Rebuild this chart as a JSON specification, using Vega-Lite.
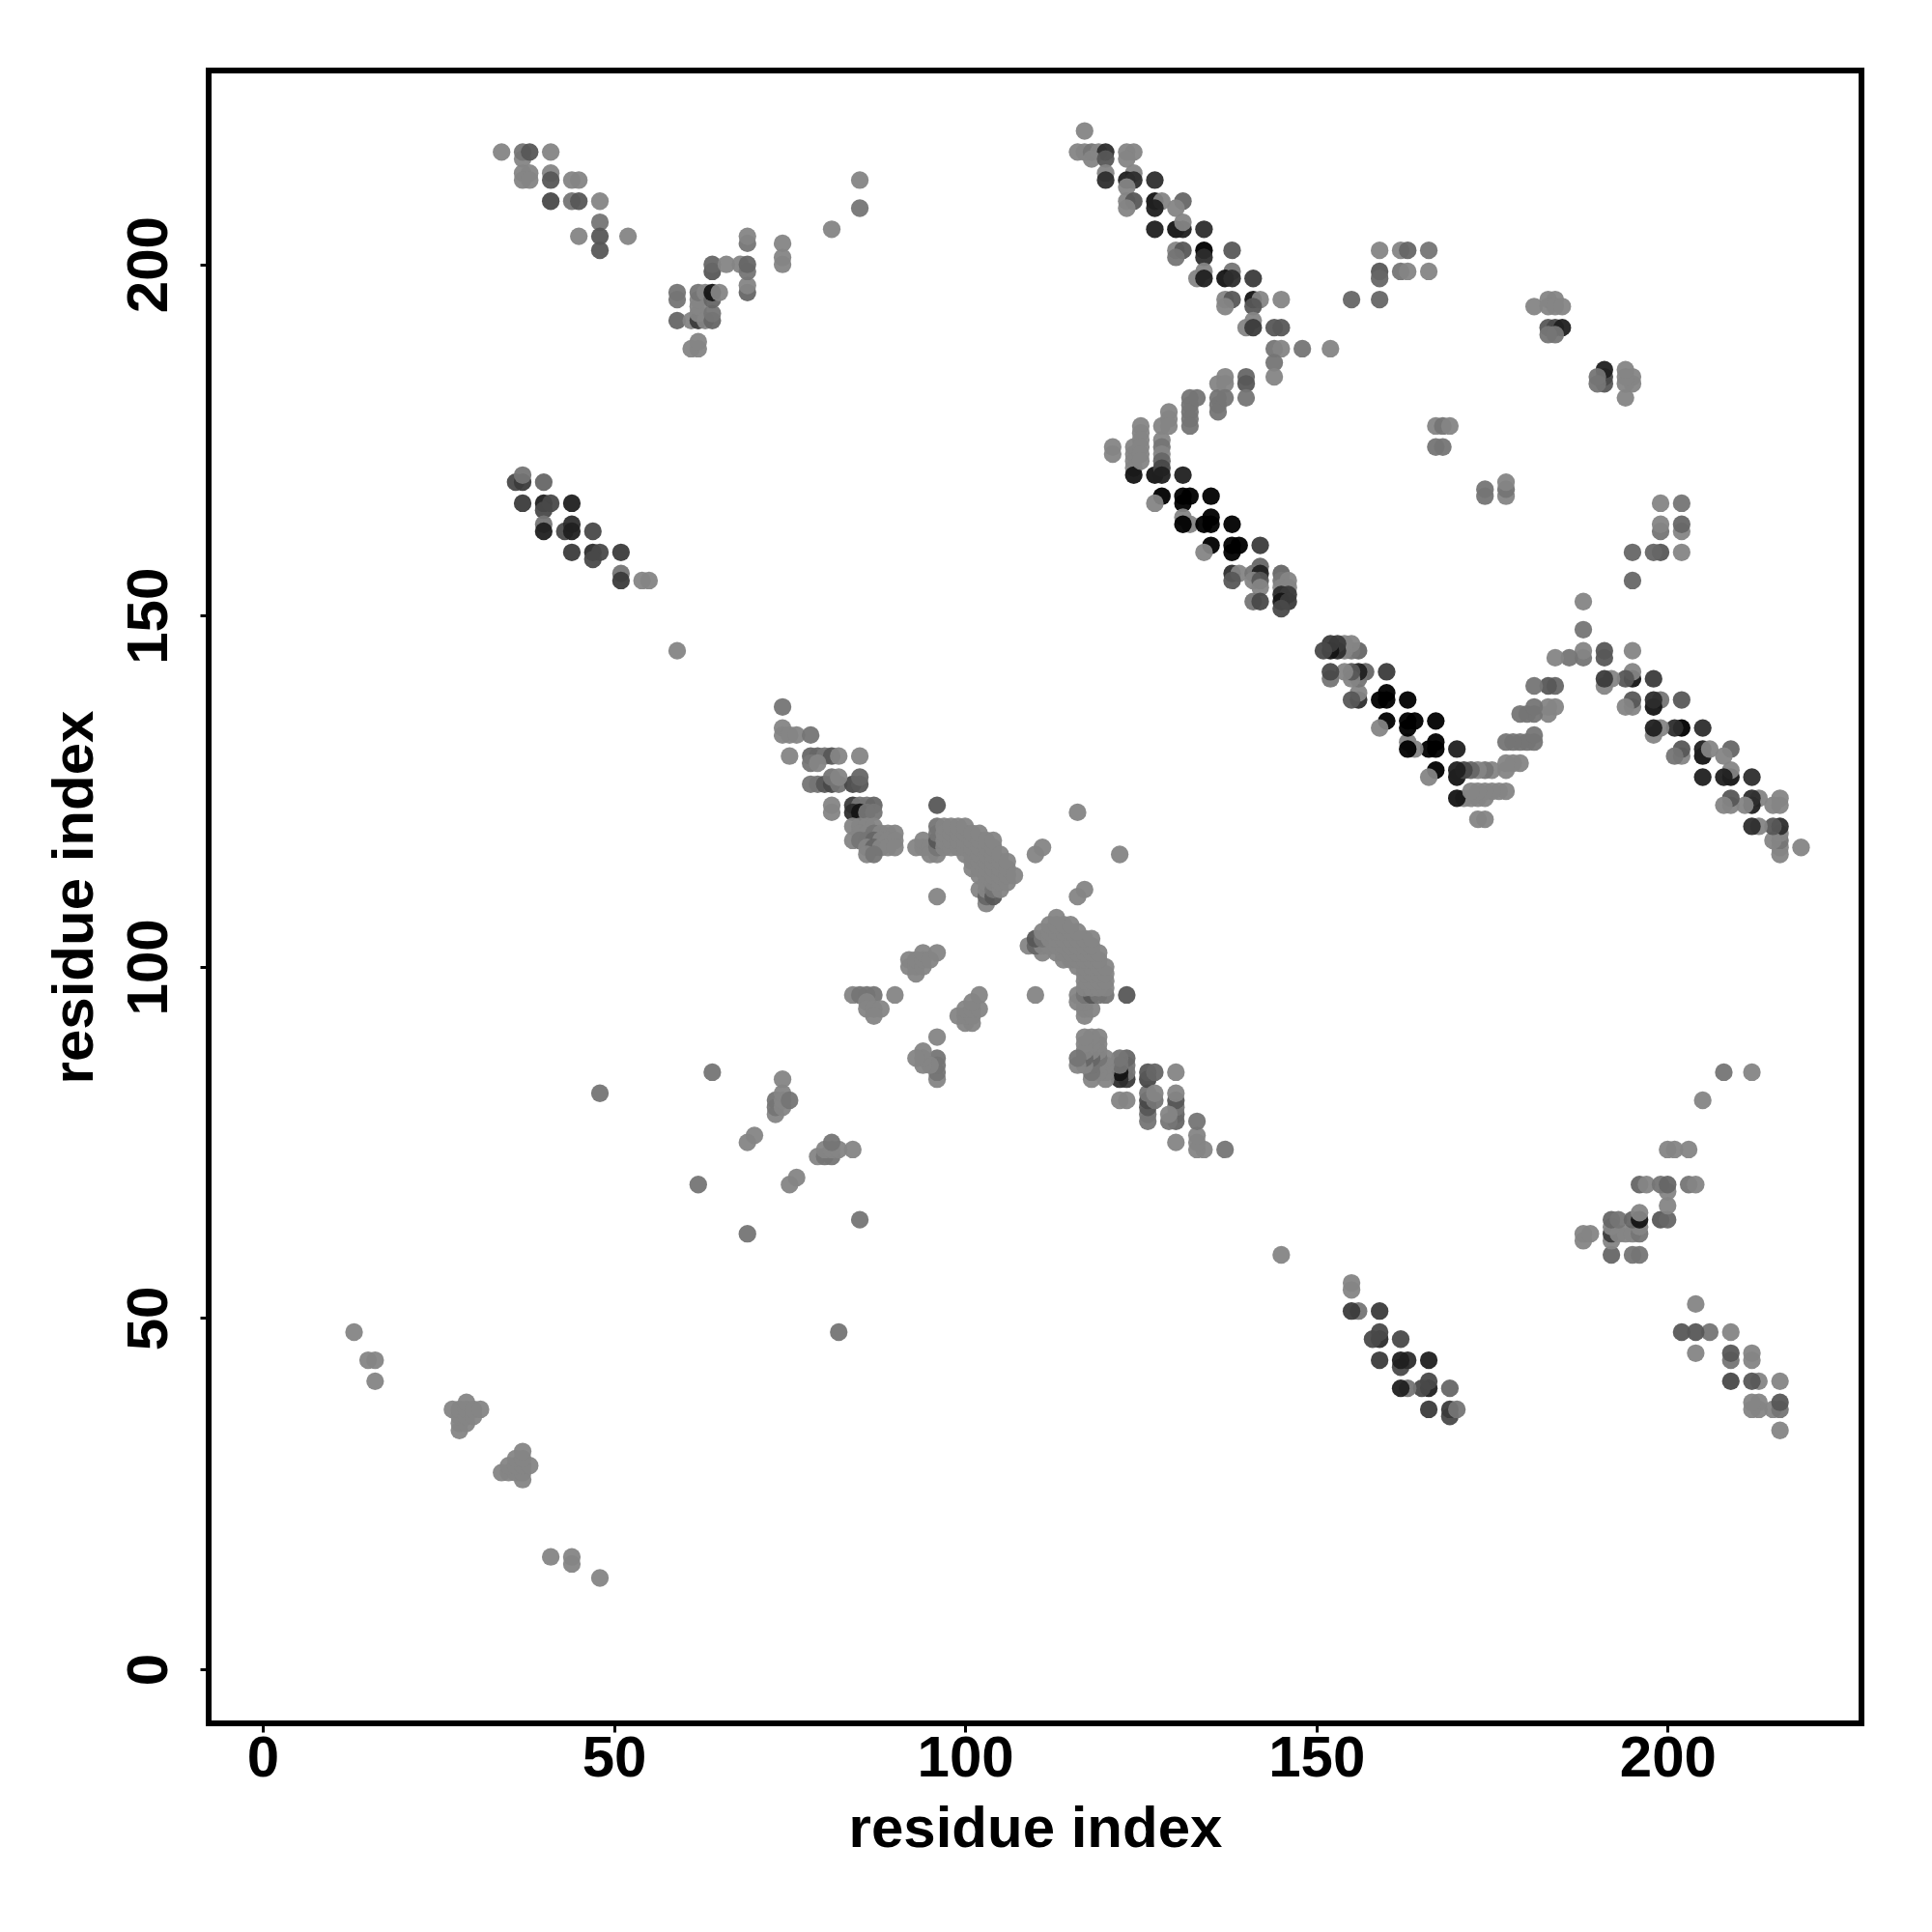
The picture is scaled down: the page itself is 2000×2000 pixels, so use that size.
{"$schema":"https://vega.github.io/schema/vega-lite/v6.json","autosize":{"type":"none"},"padding":{"left":216,"top":73,"right":73,"bottom":216},"width":1711,"height":1711,"background":"white","config":{"view":{"stroke":"black","strokeWidth":6},"font":"Liberation Sans"},"data":{"values":[
{"x":13,"y":48,"s":0},{"x":48,"y":13,"s":0},{"x":15,"y":44,"s":0},{"x":44,"y":15,"s":0},{"x":16,"y":44,"s":0},{"x":44,"y":16,"s":0},{"x":16,"y":41,"s":0},{"x":41,"y":16,"s":0},
{"x":27,"y":37,"s":0},{"x":37,"y":27,"s":0},{"x":28,"y":34,"s":0},{"x":34,"y":28,"s":0},{"x":28,"y":35,"s":0},{"x":35,"y":28,"s":0},{"x":28,"y":36,"s":0},{"x":36,"y":28,"s":0},{"x":28,"y":37,"s":0},{"x":37,"y":28,"s":0},{"x":29,"y":35,"s":0},{"x":35,"y":29,"s":0},{"x":29,"y":36,"s":0},{"x":36,"y":29,"s":0},{"x":29,"y":37,"s":0},{"x":37,"y":29,"s":0},{"x":29,"y":38,"s":0},{"x":38,"y":29,"s":0},{"x":30,"y":36,"s":0},{"x":36,"y":30,"s":0},{"x":30,"y":37,"s":0},{"x":37,"y":30,"s":0},{"x":31,"y":37,"s":0},{"x":37,"y":31,"s":0},
{"x":34,"y":216,"s":0},{"x":216,"y":34,"s":0},{"x":37,"y":215,"s":0},{"x":215,"y":37,"s":0},{"x":37,"y":216,"s":1},{"x":216,"y":37,"s":1},{"x":38,"y":216,"s":3},{"x":216,"y":38,"s":3},{"x":41,"y":216,"s":0},{"x":216,"y":41,"s":0},{"x":37,"y":213,"s":0},{"x":213,"y":37,"s":0},{"x":38,"y":213,"s":0},{"x":213,"y":38,"s":0},{"x":37,"y":212,"s":0},{"x":212,"y":37,"s":0},{"x":38,"y":212,"s":0},{"x":212,"y":38,"s":0},{"x":41,"y":213,"s":0},{"x":213,"y":41,"s":0},{"x":41,"y":212,"s":3},{"x":212,"y":41,"s":3},{"x":44,"y":212,"s":0},{"x":212,"y":44,"s":0},{"x":45,"y":212,"s":0},{"x":212,"y":45,"s":0},{"x":41,"y":209,"s":4},{"x":209,"y":41,"s":4},{"x":44,"y":209,"s":1},{"x":209,"y":44,"s":1},{"x":45,"y":209,"s":3},{"x":209,"y":45,"s":3},{"x":48,"y":209,"s":0},{"x":209,"y":48,"s":0},{"x":48,"y":206,"s":1},{"x":206,"y":48,"s":1},{"x":45,"y":204,"s":0},{"x":204,"y":45,"s":0},{"x":48,"y":204,"s":3},{"x":204,"y":48,"s":3},{"x":52,"y":204,"s":0},{"x":204,"y":52,"s":0},{"x":48,"y":202,"s":3},{"x":202,"y":48,"s":3},
{"x":36,"y":169,"s":4},{"x":169,"y":36,"s":4},{"x":37,"y":169,"s":5},{"x":169,"y":37,"s":5},{"x":40,"y":169,"s":2},{"x":169,"y":40,"s":2},{"x":37,"y":170,"s":1},{"x":170,"y":37,"s":1},{"x":37,"y":166,"s":5},{"x":166,"y":37,"s":5},{"x":40,"y":166,"s":7},{"x":166,"y":40,"s":7},{"x":41,"y":166,"s":4},{"x":166,"y":41,"s":4},{"x":44,"y":166,"s":7},{"x":166,"y":44,"s":7},{"x":40,"y":165,"s":4},{"x":165,"y":40,"s":4},{"x":40,"y":163,"s":1},{"x":163,"y":40,"s":1},{"x":40,"y":162,"s":7},{"x":162,"y":40,"s":7},{"x":43,"y":162,"s":4},{"x":162,"y":43,"s":4},{"x":44,"y":163,"s":6},{"x":163,"y":44,"s":6},{"x":44,"y":162,"s":7},{"x":162,"y":44,"s":7},{"x":47,"y":162,"s":4},{"x":162,"y":47,"s":4},{"x":44,"y":159,"s":5},{"x":159,"y":44,"s":5},{"x":47,"y":159,"s":6},{"x":159,"y":47,"s":6},{"x":48,"y":159,"s":4},{"x":159,"y":48,"s":4},{"x":47,"y":158,"s":4},{"x":158,"y":47,"s":4},{"x":51,"y":159,"s":5},{"x":159,"y":51,"s":5},{"x":51,"y":156,"s":1},{"x":156,"y":51,"s":1},{"x":51,"y":155,"s":5},{"x":155,"y":51,"s":5},{"x":54,"y":155,"s":0},{"x":155,"y":54,"s":0},{"x":55,"y":155,"s":0},{"x":155,"y":55,"s":0},{"x":59,"y":145,"s":0},{"x":145,"y":59,"s":0},{"x":48,"y":82,"s":1},{"x":82,"y":48,"s":1},
{"x":59,"y":196,"s":1},{"x":196,"y":59,"s":1},{"x":59,"y":195,"s":1},{"x":195,"y":59,"s":1},{"x":59,"y":192,"s":2},{"x":192,"y":59,"s":2},{"x":61,"y":192,"s":0},{"x":192,"y":61,"s":0},{"x":61,"y":188,"s":0},{"x":188,"y":61,"s":0},{"x":62,"y":188,"s":0},{"x":188,"y":62,"s":0},{"x":62,"y":189,"s":0},{"x":189,"y":62,"s":0},{"x":62,"y":192,"s":5},{"x":192,"y":62,"s":5},{"x":62,"y":193,"s":0},{"x":193,"y":62,"s":0},{"x":62,"y":194,"s":0},{"x":194,"y":62,"s":0},{"x":62,"y":195,"s":0},{"x":195,"y":62,"s":0},{"x":62,"y":196,"s":1},{"x":196,"y":62,"s":1},{"x":63,"y":192,"s":0},{"x":192,"y":63,"s":0},{"x":63,"y":196,"s":0},{"x":196,"y":63,"s":0},{"x":64,"y":192,"s":2},{"x":192,"y":64,"s":2},{"x":64,"y":193,"s":1},{"x":193,"y":64,"s":1},{"x":64,"y":195,"s":2},{"x":195,"y":64,"s":2},{"x":64,"y":196,"s":8},{"x":196,"y":64,"s":8},{"x":64,"y":199,"s":3},{"x":199,"y":64,"s":3},{"x":64,"y":200,"s":2},{"x":200,"y":64,"s":2},{"x":65,"y":196,"s":0},{"x":196,"y":65,"s":0},{"x":66,"y":200,"s":0},{"x":200,"y":66,"s":0},{"x":68,"y":200,"s":0},{"x":200,"y":68,"s":0},{"x":69,"y":196,"s":2},{"x":196,"y":69,"s":2},{"x":69,"y":197,"s":0},{"x":197,"y":69,"s":0},{"x":69,"y":199,"s":1},{"x":199,"y":69,"s":1},{"x":69,"y":200,"s":2},{"x":200,"y":69,"s":2},{"x":69,"y":203,"s":1},{"x":203,"y":69,"s":1},{"x":69,"y":204,"s":0},{"x":204,"y":69,"s":0},{"x":74,"y":200,"s":0},{"x":200,"y":74,"s":0},{"x":74,"y":201,"s":0},{"x":201,"y":74,"s":0},{"x":74,"y":203,"s":0},{"x":203,"y":74,"s":0},{"x":81,"y":205,"s":0},{"x":205,"y":81,"s":0},{"x":85,"y":208,"s":1},{"x":208,"y":85,"s":1},{"x":85,"y":212,"s":0},{"x":212,"y":85,"s":0},
{"x":62,"y":69,"s":1},{"x":69,"y":62,"s":1},{"x":64,"y":85,"s":1},{"x":85,"y":64,"s":1},{"x":69,"y":75,"s":0},{"x":75,"y":69,"s":0},{"x":70,"y":76,"s":0},{"x":76,"y":70,"s":0},{"x":73,"y":79,"s":0},{"x":79,"y":73,"s":0},{"x":73,"y":80,"s":1},{"x":80,"y":73,"s":1},{"x":73,"y":81,"s":1},{"x":81,"y":73,"s":1},{"x":74,"y":80,"s":0},{"x":80,"y":74,"s":0},{"x":74,"y":81,"s":0},{"x":81,"y":74,"s":0},{"x":74,"y":82,"s":0},{"x":82,"y":74,"s":0},{"x":74,"y":84,"s":0},{"x":84,"y":74,"s":0},{"x":75,"y":81,"s":1},{"x":81,"y":75,"s":1},
{"x":84,"y":96,"s":0},{"x":96,"y":84,"s":0},{"x":85,"y":96,"s":1},{"x":96,"y":85,"s":1},{"x":86,"y":96,"s":1},{"x":96,"y":86,"s":1},{"x":87,"y":96,"s":1},{"x":96,"y":87,"s":1},{"x":90,"y":96,"s":0},{"x":96,"y":90,"s":0},{"x":86,"y":95,"s":0},{"x":95,"y":86,"s":0},{"x":86,"y":94,"s":0},{"x":94,"y":86,"s":0},{"x":87,"y":94,"s":0},{"x":94,"y":87,"s":0},{"x":88,"y":94,"s":0},{"x":94,"y":88,"s":0},{"x":87,"y":93,"s":0},{"x":93,"y":87,"s":0},{"x":92,"y":100,"s":0},{"x":100,"y":92,"s":0},{"x":92,"y":101,"s":0},{"x":101,"y":92,"s":0},{"x":93,"y":99,"s":0},{"x":99,"y":93,"s":0},{"x":93,"y":100,"s":0},{"x":100,"y":93,"s":0},{"x":93,"y":101,"s":0},{"x":101,"y":93,"s":0},{"x":94,"y":100,"s":0},{"x":100,"y":94,"s":0},{"x":94,"y":101,"s":0},{"x":101,"y":94,"s":0},{"x":94,"y":102,"s":0},{"x":102,"y":94,"s":0},{"x":95,"y":101,"s":0},{"x":101,"y":95,"s":0},{"x":96,"y":102,"s":0},{"x":102,"y":96,"s":0},
{"x":74,"y":137,"s":1},{"x":137,"y":74,"s":1},{"x":74,"y":134,"s":0},{"x":134,"y":74,"s":0},{"x":74,"y":133,"s":0},{"x":133,"y":74,"s":0},{"x":75,"y":133,"s":0},{"x":133,"y":75,"s":0},{"x":76,"y":133,"s":0},{"x":133,"y":76,"s":0},{"x":78,"y":133,"s":1},{"x":133,"y":78,"s":1},{"x":75,"y":130,"s":0},{"x":130,"y":75,"s":0},{"x":78,"y":130,"s":2},{"x":130,"y":78,"s":2},{"x":79,"y":130,"s":2},{"x":130,"y":79,"s":2},{"x":80,"y":130,"s":1},{"x":130,"y":80,"s":1},{"x":81,"y":130,"s":3},{"x":130,"y":81,"s":3},{"x":82,"y":130,"s":0},{"x":130,"y":82,"s":0},{"x":85,"y":130,"s":0},{"x":130,"y":85,"s":0},{"x":78,"y":129,"s":1},{"x":129,"y":78,"s":1},{"x":79,"y":129,"s":0},{"x":129,"y":79,"s":0},{"x":78,"y":126,"s":1},{"x":126,"y":78,"s":1},{"x":79,"y":126,"s":1},{"x":126,"y":79,"s":1},{"x":80,"y":126,"s":3},{"x":126,"y":80,"s":3},{"x":81,"y":126,"s":4},{"x":126,"y":81,"s":4},{"x":82,"y":126,"s":1},{"x":126,"y":82,"s":1},{"x":84,"y":126,"s":4},{"x":126,"y":84,"s":4},{"x":85,"y":126,"s":3},{"x":126,"y":85,"s":3},{"x":81,"y":127,"s":1},{"x":127,"y":81,"s":1},{"x":82,"y":127,"s":0},{"x":127,"y":82,"s":0},{"x":85,"y":127,"s":2},{"x":127,"y":85,"s":2},{"x":81,"y":123,"s":0},{"x":123,"y":81,"s":0},{"x":84,"y":123,"s":5},{"x":123,"y":84,"s":5},{"x":85,"y":123,"s":1},{"x":123,"y":85,"s":1},{"x":86,"y":123,"s":1},{"x":123,"y":86,"s":1},{"x":87,"y":123,"s":2},{"x":123,"y":87,"s":2},{"x":81,"y":122,"s":0},{"x":122,"y":81,"s":0},{"x":84,"y":122,"s":6},{"x":122,"y":84,"s":6},{"x":85,"y":122,"s":8},{"x":122,"y":85,"s":8},{"x":86,"y":122,"s":1},{"x":122,"y":86,"s":1},{"x":87,"y":122,"s":1},{"x":122,"y":87,"s":1},
{"x":84,"y":120,"s":0},{"x":120,"y":84,"s":0},{"x":85,"y":120,"s":0},{"x":120,"y":85,"s":0},{"x":86,"y":120,"s":0},{"x":120,"y":86,"s":0},{"x":87,"y":120,"s":0},{"x":120,"y":87,"s":0},{"x":85,"y":119,"s":0},{"x":119,"y":85,"s":0},{"x":86,"y":119,"s":0},{"x":119,"y":86,"s":0},{"x":87,"y":119,"s":1},{"x":119,"y":87,"s":1},{"x":88,"y":119,"s":0},{"x":119,"y":88,"s":0},{"x":89,"y":119,"s":0},{"x":119,"y":89,"s":0},{"x":90,"y":119,"s":0},{"x":119,"y":90,"s":0},{"x":84,"y":118,"s":0},{"x":118,"y":84,"s":0},{"x":85,"y":118,"s":1},{"x":118,"y":85,"s":1},{"x":86,"y":118,"s":1},{"x":118,"y":86,"s":1},{"x":87,"y":118,"s":2},{"x":118,"y":87,"s":2},{"x":88,"y":118,"s":0},{"x":118,"y":88,"s":0},{"x":89,"y":118,"s":0},{"x":118,"y":89,"s":0},{"x":90,"y":118,"s":0},{"x":118,"y":90,"s":0},{"x":86,"y":117,"s":0},{"x":117,"y":86,"s":0},{"x":87,"y":117,"s":2},{"x":117,"y":87,"s":2},{"x":88,"y":117,"s":0},{"x":117,"y":88,"s":0},{"x":89,"y":117,"s":0},{"x":117,"y":89,"s":0},{"x":90,"y":117,"s":0},{"x":117,"y":90,"s":0},{"x":86,"y":116,"s":0},{"x":116,"y":86,"s":0},{"x":87,"y":116,"s":1},{"x":116,"y":87,"s":1},
{"x":93,"y":117,"s":0},{"x":117,"y":93,"s":0},{"x":94,"y":117,"s":0},{"x":117,"y":94,"s":0},{"x":94,"y":118,"s":0},{"x":118,"y":94,"s":0},{"x":95,"y":117,"s":0},{"x":117,"y":95,"s":0},{"x":95,"y":116,"s":0},{"x":116,"y":95,"s":0},{"x":96,"y":116,"s":0},{"x":116,"y":96,"s":0},{"x":96,"y":117,"s":1},{"x":117,"y":96,"s":1},{"x":96,"y":118,"s":3},{"x":118,"y":96,"s":3},{"x":96,"y":119,"s":1},{"x":119,"y":96,"s":1},{"x":96,"y":120,"s":1},{"x":120,"y":96,"s":1},
{"x":97,"y":117,"s":0},{"x":117,"y":97,"s":0},{"x":97,"y":118,"s":0},{"x":118,"y":97,"s":0},{"x":97,"y":119,"s":0},{"x":119,"y":97,"s":0},{"x":97,"y":120,"s":0},{"x":120,"y":97,"s":0},{"x":98,"y":117,"s":0},{"x":117,"y":98,"s":0},{"x":98,"y":118,"s":0},{"x":118,"y":98,"s":0},{"x":98,"y":119,"s":0},{"x":119,"y":98,"s":0},{"x":98,"y":120,"s":0},{"x":120,"y":98,"s":0},{"x":99,"y":117,"s":0},{"x":117,"y":99,"s":0},{"x":99,"y":118,"s":0},{"x":118,"y":99,"s":0},{"x":99,"y":119,"s":0},{"x":119,"y":99,"s":0},{"x":99,"y":120,"s":0},{"x":120,"y":99,"s":0},{"x":100,"y":116,"s":0},{"x":116,"y":100,"s":0},{"x":100,"y":117,"s":0},{"x":117,"y":100,"s":0},{"x":100,"y":118,"s":0},{"x":118,"y":100,"s":0},{"x":100,"y":119,"s":0},{"x":119,"y":100,"s":0},{"x":100,"y":120,"s":0},{"x":120,"y":100,"s":0},
{"x":101,"y":114,"s":0},{"x":114,"y":101,"s":0},{"x":101,"y":115,"s":0},{"x":115,"y":101,"s":0},{"x":101,"y":116,"s":0},{"x":116,"y":101,"s":0},{"x":101,"y":117,"s":0},{"x":117,"y":101,"s":0},{"x":101,"y":118,"s":0},{"x":118,"y":101,"s":0},{"x":101,"y":119,"s":0},{"x":119,"y":101,"s":0},{"x":102,"y":111,"s":0},{"x":111,"y":102,"s":0},{"x":102,"y":113,"s":0},{"x":113,"y":102,"s":0},{"x":102,"y":114,"s":0},{"x":114,"y":102,"s":0},{"x":102,"y":115,"s":0},{"x":115,"y":102,"s":0},{"x":102,"y":116,"s":0},{"x":116,"y":102,"s":0},{"x":102,"y":117,"s":0},{"x":117,"y":102,"s":0},{"x":102,"y":118,"s":0},{"x":118,"y":102,"s":0},{"x":102,"y":119,"s":0},{"x":119,"y":102,"s":0},
{"x":103,"y":109,"s":0},{"x":109,"y":103,"s":0},{"x":103,"y":110,"s":2},{"x":110,"y":103,"s":2},{"x":103,"y":111,"s":0},{"x":111,"y":103,"s":0},{"x":103,"y":112,"s":0},{"x":112,"y":103,"s":0},{"x":103,"y":113,"s":0},{"x":113,"y":103,"s":0},{"x":103,"y":114,"s":0},{"x":114,"y":103,"s":0},{"x":103,"y":115,"s":0},{"x":115,"y":103,"s":0},{"x":103,"y":116,"s":0},{"x":116,"y":103,"s":0},{"x":103,"y":117,"s":0},{"x":117,"y":103,"s":0},{"x":103,"y":118,"s":0},{"x":118,"y":103,"s":0},{"x":104,"y":110,"s":3},{"x":110,"y":104,"s":3},{"x":104,"y":111,"s":1},{"x":111,"y":104,"s":1},{"x":104,"y":112,"s":0},{"x":112,"y":104,"s":0},{"x":104,"y":113,"s":0},{"x":113,"y":104,"s":0},{"x":104,"y":114,"s":0},{"x":114,"y":104,"s":0},{"x":104,"y":115,"s":0},{"x":115,"y":104,"s":0},{"x":104,"y":116,"s":0},{"x":116,"y":104,"s":0},{"x":104,"y":117,"s":0},{"x":117,"y":104,"s":0},{"x":104,"y":118,"s":0},{"x":118,"y":104,"s":0},{"x":105,"y":111,"s":0},{"x":111,"y":105,"s":0},{"x":105,"y":112,"s":0},{"x":112,"y":105,"s":0},{"x":105,"y":113,"s":0},{"x":113,"y":105,"s":0},{"x":105,"y":114,"s":0},{"x":114,"y":105,"s":0},{"x":105,"y":115,"s":0},{"x":115,"y":105,"s":0},{"x":105,"y":116,"s":0},{"x":116,"y":105,"s":0},{"x":106,"y":112,"s":0},{"x":112,"y":106,"s":0},{"x":106,"y":113,"s":0},{"x":113,"y":106,"s":0},{"x":106,"y":114,"s":0},{"x":114,"y":106,"s":0},{"x":106,"y":115,"s":0},{"x":115,"y":106,"s":0},{"x":107,"y":113,"s":0},{"x":113,"y":107,"s":0},
{"x":96,"y":110,"s":0},{"x":110,"y":96,"s":0},{"x":96,"y":123,"s":3},{"x":123,"y":96,"s":3},{"x":110,"y":116,"s":0},{"x":116,"y":110,"s":0},{"x":111,"y":117,"s":0},{"x":117,"y":111,"s":0},{"x":116,"y":122,"s":0},{"x":122,"y":116,"s":0},
{"x":117,"y":219,"s":0},{"x":219,"y":117,"s":0},{"x":116,"y":216,"s":0},{"x":216,"y":116,"s":0},{"x":117,"y":216,"s":0},{"x":216,"y":117,"s":0},{"x":118,"y":216,"s":1},{"x":216,"y":118,"s":1},{"x":119,"y":216,"s":0},{"x":216,"y":119,"s":0},{"x":120,"y":216,"s":6},{"x":216,"y":120,"s":6},{"x":123,"y":216,"s":0},{"x":216,"y":123,"s":0},{"x":124,"y":216,"s":0},{"x":216,"y":124,"s":0},{"x":118,"y":215,"s":0},{"x":215,"y":118,"s":0},{"x":120,"y":215,"s":3},{"x":215,"y":120,"s":3},{"x":123,"y":215,"s":0},{"x":215,"y":123,"s":0},{"x":120,"y":213,"s":0},{"x":213,"y":120,"s":0},{"x":124,"y":213,"s":0},{"x":213,"y":124,"s":0},{"x":120,"y":212,"s":6},{"x":212,"y":120,"s":6},{"x":123,"y":212,"s":7},{"x":212,"y":123,"s":7},{"x":124,"y":212,"s":6},{"x":212,"y":124,"s":6},{"x":127,"y":212,"s":6},{"x":212,"y":127,"s":6},{"x":123,"y":211,"s":0},{"x":211,"y":123,"s":0},{"x":123,"y":209,"s":0},{"x":209,"y":123,"s":0},{"x":124,"y":209,"s":3},{"x":209,"y":124,"s":3},{"x":127,"y":209,"s":8},{"x":209,"y":127,"s":8},{"x":128,"y":209,"s":0},{"x":209,"y":128,"s":0},{"x":131,"y":209,"s":2},{"x":209,"y":131,"s":2},{"x":123,"y":208,"s":0},{"x":208,"y":123,"s":0},{"x":127,"y":208,"s":7},{"x":208,"y":127,"s":7},{"x":130,"y":208,"s":0},{"x":208,"y":130,"s":0},{"x":127,"y":205,"s":7},{"x":205,"y":127,"s":7},{"x":130,"y":205,"s":8},{"x":205,"y":130,"s":8},{"x":131,"y":205,"s":7},{"x":205,"y":131,"s":7},{"x":134,"y":205,"s":6},{"x":205,"y":134,"s":6},{"x":131,"y":206,"s":0},{"x":206,"y":131,"s":0},{"x":130,"y":202,"s":0},{"x":202,"y":130,"s":0},{"x":131,"y":202,"s":3},{"x":202,"y":131,"s":3},{"x":134,"y":202,"s":9},{"x":202,"y":134,"s":9},{"x":138,"y":202,"s":3},{"x":202,"y":138,"s":3},{"x":130,"y":201,"s":1},{"x":201,"y":130,"s":1},{"x":134,"y":201,"s":6},{"x":201,"y":134,"s":6},{"x":134,"y":199,"s":0},{"x":199,"y":134,"s":0},{"x":138,"y":199,"s":1},{"x":199,"y":138,"s":1},{"x":133,"y":198,"s":0},{"x":198,"y":133,"s":0},{"x":134,"y":198,"s":7},{"x":198,"y":134,"s":7},{"x":137,"y":198,"s":8},{"x":198,"y":137,"s":8},{"x":138,"y":198,"s":6},{"x":198,"y":138,"s":6},{"x":141,"y":198,"s":5},{"x":198,"y":141,"s":5},{"x":137,"y":195,"s":0},{"x":195,"y":137,"s":0},{"x":138,"y":195,"s":3},{"x":195,"y":138,"s":3},{"x":141,"y":195,"s":8},{"x":195,"y":141,"s":8},{"x":142,"y":195,"s":0},{"x":195,"y":142,"s":0},{"x":145,"y":195,"s":0},{"x":195,"y":145,"s":0},{"x":137,"y":194,"s":0},{"x":194,"y":137,"s":0},{"x":141,"y":194,"s":3},{"x":194,"y":141,"s":3},{"x":141,"y":192,"s":0},{"x":192,"y":141,"s":0},{"x":140,"y":191,"s":0},{"x":191,"y":140,"s":0},{"x":141,"y":191,"s":5},{"x":191,"y":141,"s":5},{"x":144,"y":191,"s":3},{"x":191,"y":144,"s":3},{"x":145,"y":191,"s":3},{"x":191,"y":145,"s":3},{"x":144,"y":188,"s":1},{"x":188,"y":144,"s":1},{"x":145,"y":188,"s":0},{"x":188,"y":145,"s":0},{"x":148,"y":188,"s":1},{"x":188,"y":148,"s":1},{"x":152,"y":188,"s":0},{"x":188,"y":152,"s":0},{"x":144,"y":186,"s":1},{"x":186,"y":144,"s":1},{"x":144,"y":184,"s":0},{"x":184,"y":144,"s":0},
{"x":159,"y":202,"s":0},{"x":202,"y":159,"s":0},{"x":162,"y":202,"s":0},{"x":202,"y":162,"s":0},{"x":163,"y":202,"s":2},{"x":202,"y":163,"s":2},{"x":166,"y":202,"s":1},{"x":202,"y":166,"s":1},{"x":159,"y":199,"s":3},{"x":199,"y":159,"s":3},{"x":162,"y":199,"s":1},{"x":199,"y":162,"s":1},{"x":163,"y":199,"s":0},{"x":199,"y":163,"s":0},{"x":166,"y":199,"s":0},{"x":199,"y":166,"s":0},{"x":159,"y":198,"s":2},{"x":198,"y":159,"s":2},{"x":155,"y":195,"s":2},{"x":195,"y":155,"s":2},{"x":159,"y":195,"s":2},{"x":195,"y":159,"s":2},
{"x":181,"y":194,"s":0},{"x":194,"y":181,"s":0},{"x":183,"y":195,"s":0},{"x":195,"y":183,"s":0},{"x":184,"y":195,"s":0},{"x":195,"y":184,"s":0},{"x":183,"y":194,"s":0},{"x":194,"y":183,"s":0},{"x":184,"y":194,"s":0},{"x":194,"y":184,"s":0},{"x":185,"y":194,"s":0},{"x":194,"y":185,"s":0},{"x":183,"y":191,"s":3},{"x":191,"y":183,"s":3},{"x":184,"y":191,"s":4},{"x":191,"y":184,"s":4},{"x":185,"y":191,"s":7},{"x":191,"y":185,"s":7},{"x":183,"y":190,"s":1},{"x":190,"y":183,"s":1},{"x":184,"y":190,"s":1},{"x":190,"y":184,"s":1},
{"x":167,"y":174,"s":1},{"x":174,"y":167,"s":1},{"x":168,"y":174,"s":1},{"x":174,"y":168,"s":1},{"x":167,"y":177,"s":0},{"x":177,"y":167,"s":0},{"x":168,"y":177,"s":1},{"x":177,"y":168,"s":1},{"x":169,"y":177,"s":0},{"x":177,"y":169,"s":0},
{"x":121,"y":174,"s":0},{"x":174,"y":121,"s":0},{"x":121,"y":173,"s":0},{"x":173,"y":121,"s":0},{"x":124,"y":174,"s":0},{"x":174,"y":124,"s":0},{"x":124,"y":173,"s":0},{"x":173,"y":124,"s":0},{"x":124,"y":172,"s":0},{"x":172,"y":124,"s":0},{"x":124,"y":171,"s":0},{"x":171,"y":124,"s":0},{"x":124,"y":170,"s":8},{"x":170,"y":124,"s":8},{"x":125,"y":177,"s":0},{"x":177,"y":125,"s":0},{"x":125,"y":176,"s":0},{"x":176,"y":125,"s":0},{"x":125,"y":175,"s":0},{"x":175,"y":125,"s":0},{"x":125,"y":174,"s":0},{"x":174,"y":125,"s":0},{"x":125,"y":173,"s":0},{"x":173,"y":125,"s":0},{"x":125,"y":172,"s":0},{"x":172,"y":125,"s":0},{"x":127,"y":170,"s":8},{"x":170,"y":127,"s":8},{"x":128,"y":177,"s":0},{"x":177,"y":128,"s":0},{"x":128,"y":175,"s":0},{"x":175,"y":128,"s":0},{"x":128,"y":174,"s":1},{"x":174,"y":128,"s":1},{"x":128,"y":173,"s":0},{"x":173,"y":128,"s":0},{"x":128,"y":172,"s":2},{"x":172,"y":128,"s":2},{"x":128,"y":171,"s":4},{"x":171,"y":128,"s":4},{"x":128,"y":170,"s":7},{"x":170,"y":128,"s":7},{"x":131,"y":170,"s":7},{"x":170,"y":131,"s":7},{"x":129,"y":179,"s":0},{"x":179,"y":129,"s":0},{"x":129,"y":178,"s":0},{"x":178,"y":129,"s":0},{"x":129,"y":177,"s":0},{"x":177,"y":129,"s":0},{"x":132,"y":181,"s":1},{"x":181,"y":132,"s":1},{"x":132,"y":180,"s":1},{"x":180,"y":132,"s":1},{"x":132,"y":179,"s":1},{"x":179,"y":132,"s":1},{"x":132,"y":178,"s":1},{"x":178,"y":132,"s":1},{"x":132,"y":177,"s":1},{"x":177,"y":132,"s":1},{"x":133,"y":181,"s":1},{"x":181,"y":133,"s":1},{"x":136,"y":183,"s":0},{"x":183,"y":136,"s":0},{"x":136,"y":181,"s":1},{"x":181,"y":136,"s":1},{"x":136,"y":180,"s":1},{"x":180,"y":136,"s":1},{"x":136,"y":179,"s":1},{"x":179,"y":136,"s":1},{"x":137,"y":184,"s":0},{"x":184,"y":137,"s":0},{"x":137,"y":183,"s":0},{"x":183,"y":137,"s":0},{"x":137,"y":181,"s":1},{"x":181,"y":137,"s":1},{"x":140,"y":184,"s":2},{"x":184,"y":140,"s":2},{"x":140,"y":183,"s":3},{"x":183,"y":140,"s":3},{"x":140,"y":181,"s":1},{"x":181,"y":140,"s":1},
{"x":128,"y":167,"s":9},{"x":167,"y":128,"s":9},{"x":127,"y":166,"s":0},{"x":166,"y":127,"s":0},{"x":131,"y":167,"s":9},{"x":167,"y":131,"s":9},{"x":132,"y":167,"s":9},{"x":167,"y":132,"s":9},{"x":135,"y":167,"s":9},{"x":167,"y":135,"s":9},{"x":131,"y":166,"s":9},{"x":166,"y":131,"s":9},{"x":135,"y":164,"s":9},{"x":164,"y":135,"s":9},{"x":131,"y":164,"s":0},{"x":164,"y":131,"s":0},{"x":132,"y":163,"s":0},{"x":163,"y":132,"s":0},{"x":131,"y":163,"s":9},{"x":163,"y":131,"s":9},{"x":134,"y":163,"s":9},{"x":163,"y":134,"s":9},{"x":135,"y":163,"s":9},{"x":163,"y":135,"s":9},{"x":138,"y":163,"s":9},{"x":163,"y":138,"s":9},{"x":135,"y":160,"s":9},{"x":160,"y":135,"s":9},{"x":138,"y":160,"s":9},{"x":160,"y":138,"s":9},{"x":139,"y":160,"s":9},{"x":160,"y":139,"s":9},{"x":142,"y":160,"s":5},{"x":160,"y":142,"s":5},{"x":134,"y":159,"s":0},{"x":159,"y":134,"s":0},{"x":138,"y":159,"s":9},{"x":159,"y":138,"s":9},{"x":142,"y":157,"s":2},{"x":157,"y":142,"s":2},{"x":138,"y":156,"s":6},{"x":156,"y":138,"s":6},{"x":139,"y":156,"s":0},{"x":156,"y":139,"s":0},{"x":141,"y":156,"s":1},{"x":156,"y":141,"s":1},{"x":142,"y":156,"s":7},{"x":156,"y":142,"s":7},{"x":145,"y":156,"s":2},{"x":156,"y":145,"s":2},{"x":138,"y":155,"s":3},{"x":155,"y":138,"s":3},{"x":141,"y":155,"s":0},{"x":155,"y":141,"s":0},{"x":142,"y":155,"s":3},{"x":155,"y":142,"s":3},{"x":145,"y":155,"s":1},{"x":155,"y":145,"s":1},{"x":146,"y":155,"s":0},{"x":155,"y":146,"s":0},{"x":142,"y":154,"s":0},{"x":154,"y":142,"s":0},{"x":145,"y":154,"s":0},{"x":154,"y":145,"s":0},{"x":146,"y":154,"s":0},{"x":154,"y":146,"s":0},{"x":145,"y":153,"s":6},{"x":153,"y":145,"s":6},{"x":146,"y":153,"s":5},{"x":153,"y":146,"s":5},{"x":141,"y":152,"s":1},{"x":152,"y":141,"s":1},{"x":142,"y":152,"s":4},{"x":152,"y":142,"s":4},{"x":145,"y":152,"s":8},{"x":152,"y":145,"s":8},{"x":146,"y":152,"s":5},{"x":152,"y":146,"s":5},{"x":145,"y":151,"s":4},{"x":151,"y":145,"s":4}
]},"mark":{"type":"point","shape":"circle","filled":true,"size":335,"opacity":0.95,"stroke":null},"encoding":{"x":{"field":"x","type":"quantitative","scale":{"domain":[-7.7,227.6],"nice":false,"zero":false},"axis":{"values":[0,50,100,150,200],"title":"residue index","grid":false,"domain":false,"tickColor":"black","tickSize":9,"tickWidth":3,"labelColor":"black","labelFont":"Liberation Sans","labelFontWeight":"bold","labelFontSize":60,"labelPadding":-2,"titleFont":"Liberation Sans","titleFontWeight":"bold","titleFontSize":60,"titleColor":"black","titlePadding":14}},"y":{"field":"y","type":"quantitative","scale":{"domain":[-7.7,227.6],"nice":false,"zero":false},"axis":{"values":[0,50,100,150,200],"title":"residue index","grid":false,"domain":false,"tickColor":"black","tickSize":9,"tickWidth":3,"labelColor":"black","labelFont":"Liberation Sans","labelFontWeight":"bold","labelFontSize":60,"labelAngle":-90,"labelAlign":"center","labelBaseline":"bottom","labelPadding":22,"titleFont":"Liberation Sans","titleFontWeight":"bold","titleFontSize":60,"titleColor":"black","titlePadding":16}},"color":{"field":"s","type":"quantitative","scale":{"domain":[0,9],"range":["#858585","#000000"]},"legend":null},"order":[{"field":"x","type":"quantitative"},{"field":"y","type":"quantitative"}]}}
